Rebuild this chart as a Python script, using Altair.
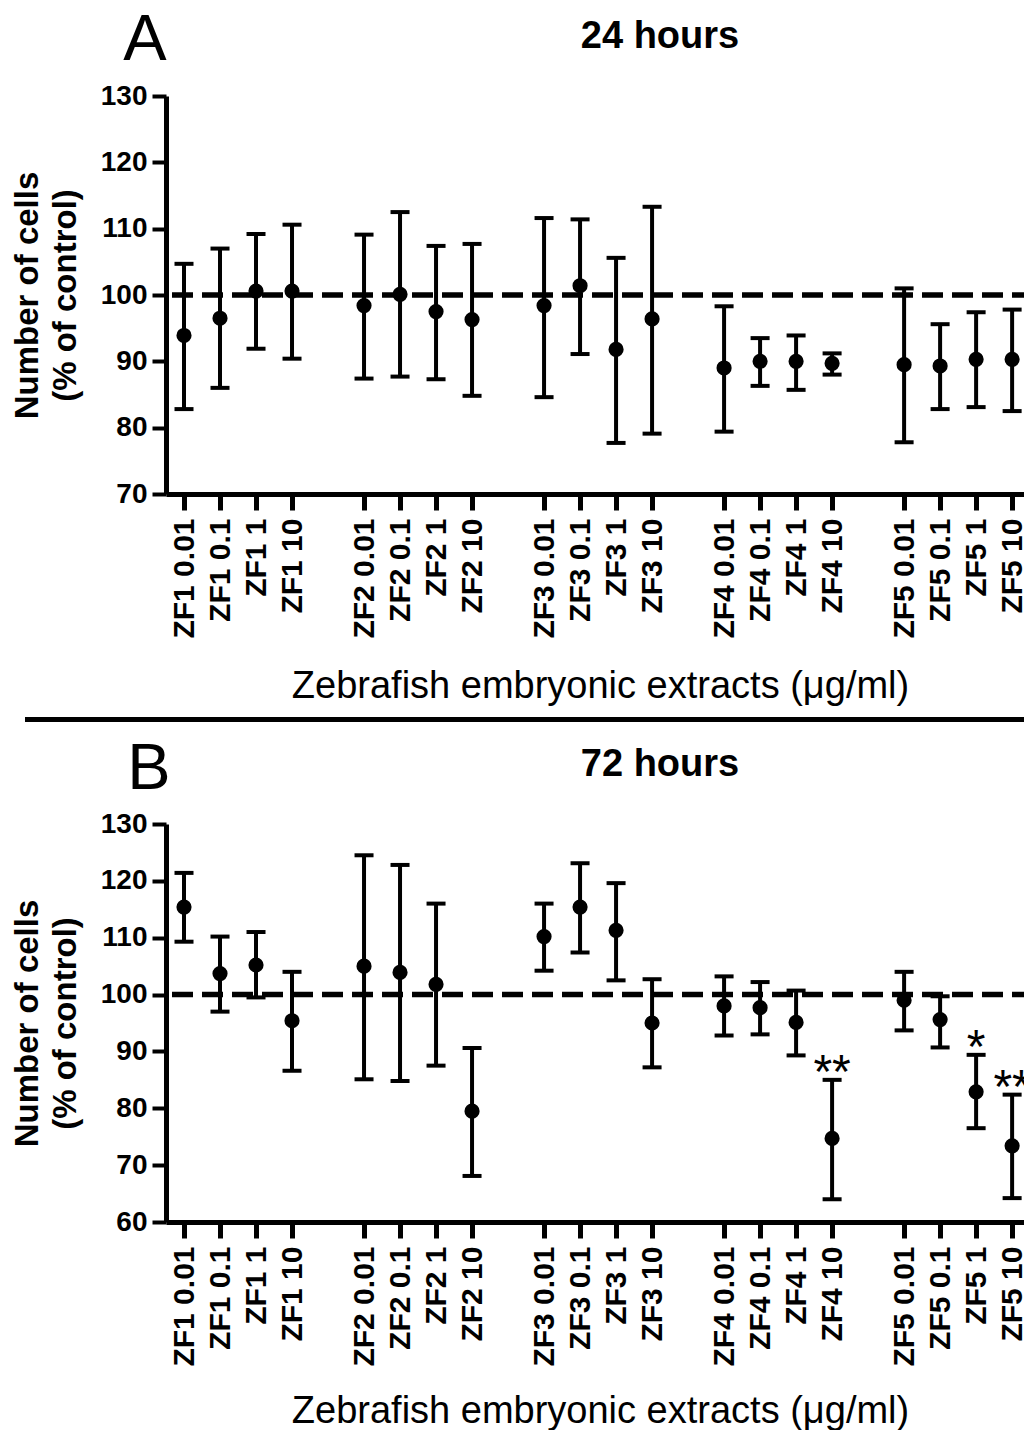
import altair as alt
import pandas as pd

groups = ["ZF1", "ZF2", "ZF3", "ZF4", "ZF5"]
doses = ["0.01", "0.1", "1", "10"]
labels = [f"{g} {d}" for g in groups for d in doses]
slots = [gi * 5 + di for gi in range(5) for di in range(4)]

# 24 hours
mean_24 = [93.9, 96.5, 100.6, 100.6,
           98.4, 100.1, 97.5, 96.3,
           98.4, 101.4, 91.8, 96.4,
           89.0, 90.0, 90.0, 89.7,
           89.5, 89.3, 90.3, 90.3]
upper_24 = [104.7, 107.0, 109.2, 110.6,
            109.1, 112.5, 107.4, 107.7,
            111.6, 111.4, 105.6, 113.3,
            98.3, 93.5, 93.9, 91.2,
            101.0, 95.6, 97.4, 97.8]
lower_24 = [82.8, 86.0, 91.9, 90.4,
            87.4, 87.7, 87.3, 84.8,
            84.6, 91.1, 77.7, 79.1,
            79.4, 86.3, 85.7, 88.0,
            77.8, 82.8, 83.1, 82.5]

# 72 hours
mean_72 = [115.4, 103.7, 105.2, 95.4,
           105.0, 103.9, 101.8, 79.5,
           110.2, 115.4, 111.3, 95.0,
           98.0, 97.7, 95.1, 74.7,
           99.0, 95.6, 82.9, 73.4]
upper_72 = [121.4, 110.2, 111.0, 104.0,
            124.5, 122.8, 116.0, 90.6,
            116.0, 123.1, 119.6, 102.7,
            103.2, 102.2, 100.7, 85.0,
            104.0, 99.7, 89.4, 82.4]
lower_72 = [109.3, 97.0, 99.5, 86.6,
            85.1, 84.8, 87.5, 68.1,
            104.2, 107.4, 102.5, 87.2,
            92.8, 93.0, 89.3, 64.0,
            93.7, 90.7, 76.5, 64.2]

star_labels = ["ZF4 10", "ZF5 1", "ZF5 10"]
star_marks = ["**", "*", "**"]

x_title = "Zebrafish embryonic extracts (\u03bcg/ml)"
y_title = ["Number of cells", "(% of control)"]

W, H = 867, 398
label_arr = [""] * 24
for s, l in zip(slots, labels):
    label_arr[s] = l
label_expr = "[" + ",".join(f"'{s}'" for s in label_arr) + "][datum.value]"

TICKFONT = "Liberation Sans"


def panel(mean, lo, hi, ymin, letter, letter_x, letter_y, title, title_y,
          stars=None, separator=False):
    df = pd.DataFrame({"slot": slots, "label": labels, "mean": mean, "lo": lo, "hi": hi})
    xs = alt.Scale(domain=[-0.5, 23.58], nice=False, zero=False)
    ys = alt.Scale(domain=[ymin, 130], nice=False, zero=False)
    xaxis = alt.Axis(
        values=slots, labelExpr=label_expr, labelAngle=270, labelAlign="right",
        labelBaseline="middle", labelFont=TICKFONT, labelFontWeight="bold",
        labelFontSize=30, labelColor="black", labelPadding=8, labelLimit=400,
        labelOverlap=False, labelFlush=False,
        tickSize=16, tickWidth=5, tickColor="black",
        domainWidth=5, domainColor="black", grid=False,
        title=x_title, titleFont="Liberation Sans", titleFontWeight="normal",
        titleFontSize=38, titleColor="black", titleX=434, titleY=title_y,
        titleAlign="center", titleBaseline="alphabetic",
    )
    yaxis = alt.Axis(
        values=list(range(ymin, 131, 10)), labelFont=TICKFONT, labelFontWeight="bold",
        labelFontSize=28, labelColor="black", labelPadding=5, labelFlush=False,
        tickSize=14, tickWidth=4, tickColor="black",
        domainWidth=5, domainColor="black", grid=False,
        title=y_title, titleFont="Liberation Sans", titleFontWeight="bold",
        titleFontSize=33, titleColor="black", titleAngle=270, titleX=-129,
        titleY=H / 2, titleAlign="center", titleBaseline="alphabetic",
        titleLineHeight=38,
    )

    def X():
        return alt.X("slot:Q", scale=xs, axis=xaxis)

    def Y(f):
        return alt.Y(f, type="quantitative", scale=ys, axis=yaxis)

    base = alt.Chart(df)
    stems = base.mark_rule(color="black", strokeWidth=4).encode(
        x=X(), y=Y("lo"), y2="hi:Q",
    )
    cap_hi = base.mark_tick(color="black", orient="horizontal", size=19, thickness=4, opacity=1).encode(
        x=X(), y=Y("hi"),
    )
    cap_lo = base.mark_tick(color="black", orient="horizontal", size=19, thickness=4, opacity=1).encode(
        x=X(), y=Y("lo"),
    )
    pts = base.mark_circle(color="black", size=230, opacity=1).encode(
        x=X(), y=Y("mean"),
    )
    dash = alt.Chart(pd.DataFrame({"ref": [100]})).mark_rule(
        color="black", strokeWidth=5.5, strokeDash=[21, 9]
    ).encode(y=Y("ref"))
    letter_t = alt.Chart(pd.DataFrame({"t": [letter]})).mark_text(
        font="Liberation Sans", fontSize=65, align="center", baseline="alphabetic", color="black"
    ).encode(x=alt.value(letter_x), y=alt.value(letter_y), text="t:N")
    title_t = alt.Chart(pd.DataFrame({"t": [title]})).mark_text(
        font="Liberation Sans", fontSize=38, fontWeight="bold", align="center",
        baseline="alphabetic", color="black"
    ).encode(x=alt.value(494), y=alt.value(-48), text="t:N")
    layers = [stems, dash, cap_hi, cap_lo, pts, letter_t, title_t]
    if stars is not None:
        sdf = df[df["label"].isin(stars[0])].copy()
        sdf["star"] = [stars[1][stars[0].index(l)] for l in sdf["label"]]
        star_t = alt.Chart(sdf).mark_text(
            font="Liberation Sans", fontSize=48, align="center", baseline="alphabetic",
            dy=8, color="black"
        ).encode(x=X(), y=Y("hi"), text="star:N")
        layers.append(star_t)
    if separator:
        sep = alt.Chart(pd.DataFrame({"z": [0]})).mark_rule(color="black", strokeWidth=5).encode(
            x=alt.value(-141), x2=alt.value(W), y=alt.value(623.5)
        )
        corner = alt.Chart(pd.DataFrame({"z": [0]})).mark_rule(opacity=0).encode(
            x=alt.value(-158), x2=alt.value(-158), y=alt.value(-100), y2=alt.value(-100)
        )
        layers += [sep, corner]
    return alt.layer(*layers).properties(width=W, height=H)


top = panel(mean_24, lower_24, upper_24, 70, "A", -21, -36, "24 hours", 203, separator=True)
bottom = panel(mean_72, lower_72, upper_72, 60, "B", -17, -35, "72 hours", 200,
               stars=(star_labels, star_marks))

chart = alt.vconcat(top, bottom, spacing=330, bounds="flush").properties(
    padding={"left": 0, "top": -12, "right": -12, "bottom": 0},
    background="white",
).configure(font="Liberation Sans").configure_view(strokeWidth=0)

chart.save("out.html", embed_options={"renderer": "svg", "actions": False})
